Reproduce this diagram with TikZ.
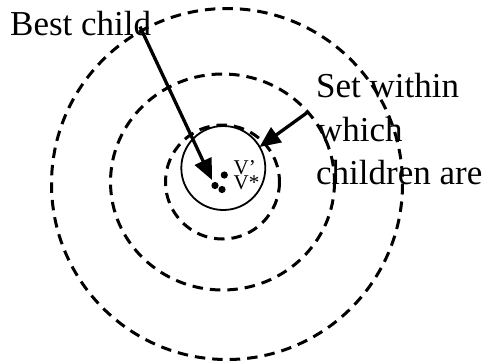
\documentclass[tikz,border=0pt]{standalone}
\usepackage{fontspec}
\setmainfont{Liberation Serif}
\usetikzlibrary{arrows.meta}
\begin{document}
\begin{tikzpicture}[x=1pt,y=-1pt,
  dashcircle/.style={draw,line width=3pt,dash pattern=on 10.5pt off 7pt},
  solidcircle/.style={draw,line width=1.8pt},
  label/.style={font=\fontsize{35}{40}\selectfont,inner sep=0pt,anchor=base west},
  vlabel/.style={font=\fontsize{21}{14}\selectfont,inner sep=0pt,anchor=base west,align=left},
  pointer/.style={line width=3.3pt,-{Triangle[length=21pt,width=18pt]}},
  dot/.style={fill=black,draw=none}]
\useasboundingbox (0,0) rectangle (492,362);
\draw[dashcircle] (227,184) circle (175.5);
\draw[dashcircle] (222.5,182) ellipse (112 and 108);
\draw[dashcircle] (222.5,182) circle (57);
\draw[solidcircle] (223.3,168) circle (42);
\fill[dot] (224.3,175) circle (3.6);
\fill[dot] (215,185.5) circle (3.6);
\fill[dot] (222,189.5) circle (3.6);
\node[vlabel] (v) at (233.5,189) {V’\\[-0.5pt]V*};
\node[label] (best) at (10,35) {Best child};
\node[label] (set1) at (316,97) {Set within};
\node[label] (set2) at (317,141.7) {which};
\node[label] (set3) at (316,184) {children are};
\coordinate (a1s) at (140,26.7);
\coordinate (a1e) at (212,180);
\coordinate (a2s) at (308,112);
\coordinate (a2e) at (259.5,147);
\draw[pointer] (a1s) -- (a1e);
\draw[pointer] (a2s) -- (a2e);
\end{tikzpicture}
\end{document}
